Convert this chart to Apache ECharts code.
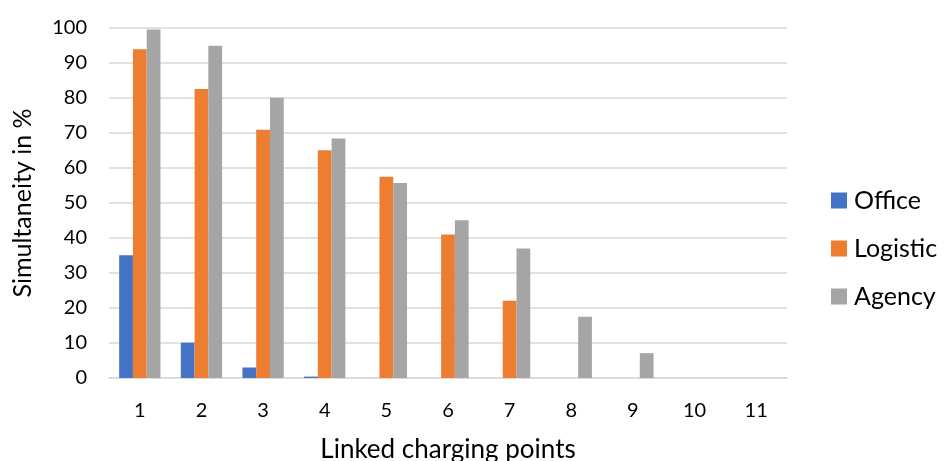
<!DOCTYPE html>
<html><head><meta charset="utf-8">
<script src="https://cdn.jsdelivr.net/npm/echarts@6/dist/echarts.min.js"></script>
<style>html,body{margin:0;padding:0;background:#fff}#c{width:945px;height:461px}</style>
</head><body><div id="c"></div>
<script>
var categories = ['1','2','3','4','5','6','7','8','9','10','11'];
var office   = [35.1, 10.1, 3.0, 0.4, 0, 0, 0, 0, 0, 0, 0];
var logistic = [93.9, 82.6, 70.9, 65.1, 57.5, 41.0, 22.1, 0, 0, 0, 0];
var agency   = [99.6, 94.9, 80.1, 68.4, 55.7, 45.1, 37.0, 17.5, 7.1, 0, 0];
var yTicks = [0,10,20,30,40,50,60,70,80,90,100];

var font = 'Lato, "Open Sans", sans-serif';
var chart = echarts.init(document.getElementById('c'), null, {renderer:'canvas'});
chart.setOption({
  animation:false,
  color:['#4472C4','#ED7D31','#A5A5A5'],
  grid:{left:109, right:158, top:28, bottom:83, containLabel:false, outerBoundsMode:'none'},
  legend:{
    orient:'vertical', left:826, top:183,
    itemWidth:16, itemHeight:16, itemGap:23, icon:'rect',
    textStyle:{fontFamily:font, fontSize:25, color:'#000', padding:[0,0,0,2]},
    data:['Office','Logistic','Agency']
  },
  xAxis:{
    type:'category', data:categories,
    name:'Linked charging points', nameLocation:'middle', nameGap:59,
    nameTextStyle:{fontFamily:font, fontSize:26, color:'#000'},
    axisLine:{lineStyle:{color:'#D9D9D9', width:1.5}},
    axisTick:{show:false},
    axisLabel:{fontFamily:font, fontSize:20, color:'#000', margin:23}
  },
  yAxis:{
    type:'value', min:yTicks[0], max:yTicks[yTicks.length-1], interval:10,
    name:'Simultaneity in %', nameLocation:'middle', nameGap:74,
    nameTextStyle:{fontFamily:font, fontSize:25, color:'#000'},
    axisLine:{show:false}, axisTick:{show:false},
    axisLabel:{fontFamily:font, fontSize:20, color:'#000', margin:22},
    splitLine:{lineStyle:{color:'#D9D9D9', width:1.5}}
  },
  series:[
    {name:'Office', type:'bar', data:office, barGap:'0%', barCategoryGap:'33%'},
    {name:'Logistic', type:'bar', data:logistic, barGap:'0%', barCategoryGap:'33%'},
    {name:'Agency', type:'bar', data:agency, barGap:'0%', barCategoryGap:'33%'}
  ]
});
</script></body></html>
